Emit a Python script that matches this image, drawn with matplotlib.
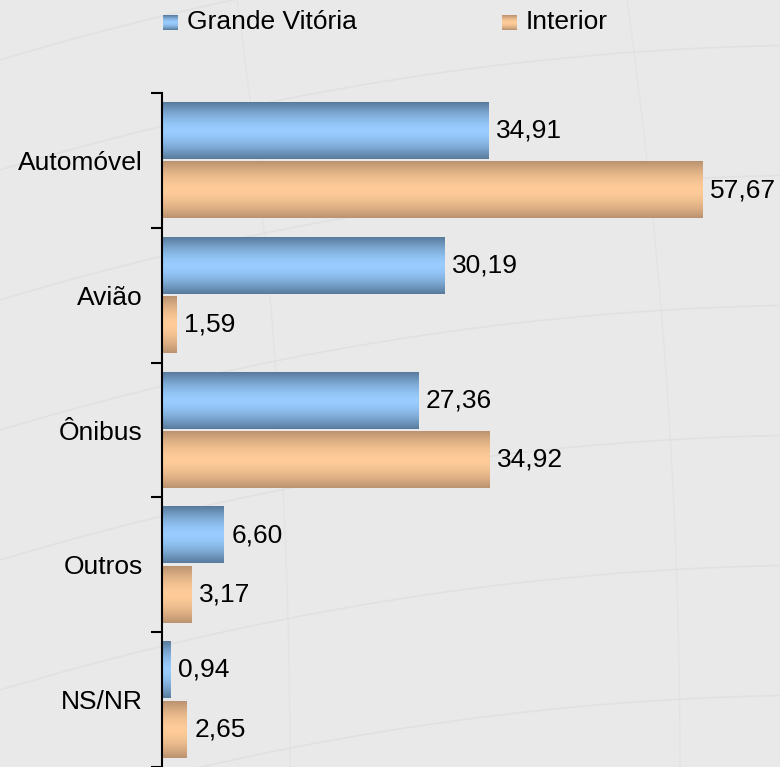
import matplotlib.pyplot as plt
import numpy as np
from matplotlib.colors import to_rgb

plt.rcParams["font.family"] = ["Liberation Sans", "DejaVu Sans"]

# data
categories = ["Automóvel", "Avião", "Ônibus", "Outros", "NS/NR"]
grande_vitoria = [34.91, 30.19, 27.36, 6.60, 0.94]
interior = [57.67, 1.59, 34.92, 3.17, 2.65]
series_names = ["Grande Vitória", "Interior"]

W, H = 780, 767
FS = 19
fig = plt.figure(figsize=(W / 100, H / 100), dpi=100)
fig.patch.set_facecolor("#e9e9e9")

# faint background texture lines
bg = fig.add_axes([0, 0, 1, 1], zorder=-1)
bg.set_xlim(0, W)
bg.set_ylim(H, 0)
bg.axis("off")
xs = np.linspace(0, W, 200)
for y0 in [60, 170, 300, 430, 560, 690, 820]:
    ys = y0 - 0.30 * xs + 0.00018 * xs ** 2
    bg.plot(xs, ys, color="#dedede", lw=1.2, alpha=0.7)
yy = np.linspace(0, H, 200)
for x0 in [250, 640]:
    bg.plot(x0 - 0.00009 * (yy - 767) ** 2 + 40, yy, color="#e0e0e0", lw=1.0, alpha=0.6)

ax = fig.add_axes([162 / W, 0, 1 - 162 / W, 1 - 93 / H])
ax.set_facecolor("none")

blue_edge, blue_mid = to_rgb("#587b9c"), to_rgb("#99ccff")
orng_edge, orng_mid = to_rgb("#bb9370"), to_rgb("#ffcc99")


def grad_img(edge, mid, n=64):
    t = np.abs(np.linspace(-1, 1, n))
    w = (t ** 1.6)[:, None]
    img = np.array(mid)[None, :] * (1 - w) + np.array(edge)[None, :] * w
    return img[:, None, :]


def grad_bar(x, yc, h, edge, mid):
    ax.imshow(grad_img(edge, mid), extent=[0, x, yc + h / 2, yc - h / 2], aspect="auto",
              interpolation="bilinear", zorder=2)


bh = 0.42
for i in range(len(categories)):
    yb = i + 0.28
    yo = i + 0.72
    grad_bar(grande_vitoria[i], yb, bh, blue_edge, blue_mid)
    grad_bar(interior[i], yo, bh, orng_edge, orng_mid)
    ax.text(grande_vitoria[i] + 0.8, yb, f"{grande_vitoria[i]:.2f}".replace(".", ","),
            va="center", ha="left", fontsize=FS, zorder=3)
    ax.text(interior[i] + 0.8, yo, f"{interior[i]:.2f}".replace(".", ","),
            va="center", ha="left", fontsize=FS, zorder=3)

ax.set_xlim(0, (W - 162) / 9.365)
ax.set_ylim(5, 0)

for s in ["top", "right", "bottom"]:
    ax.spines[s].set_visible(False)
ax.spines["left"].set_linewidth(1.5)
ax.set_xticks([])
ax.set_yticks(np.arange(0, 6))
ax.set_yticklabels([])
ax.tick_params(axis="y", which="major", length=8, width=1.5, direction="out")
ax.set_yticks(np.arange(len(categories)) + 0.5, minor=True)
ax.set_yticklabels(categories, minor=True, fontsize=FS)
ax.tick_params(axis="y", which="minor", length=0, pad=14)

# legend drawn by hand
for (mx, tx, name, edge, mid) in [(163, 187, series_names[0], blue_edge, blue_mid),
                                  (502, 526, series_names[1], orng_edge, orng_mid)]:
    lg = fig.add_axes([mx / W, 1 - 30 / H, 15 / W, 15 / H])
    lg.imshow(grad_img(edge, mid, 32), aspect="auto", interpolation="bilinear")
    lg.axis("off")
    fig.text(tx / W, 1 - 22 / H, name, fontsize=FS, va="center", ha="left")

fig.savefig("out.png", dpi=100, facecolor=fig.get_facecolor())
